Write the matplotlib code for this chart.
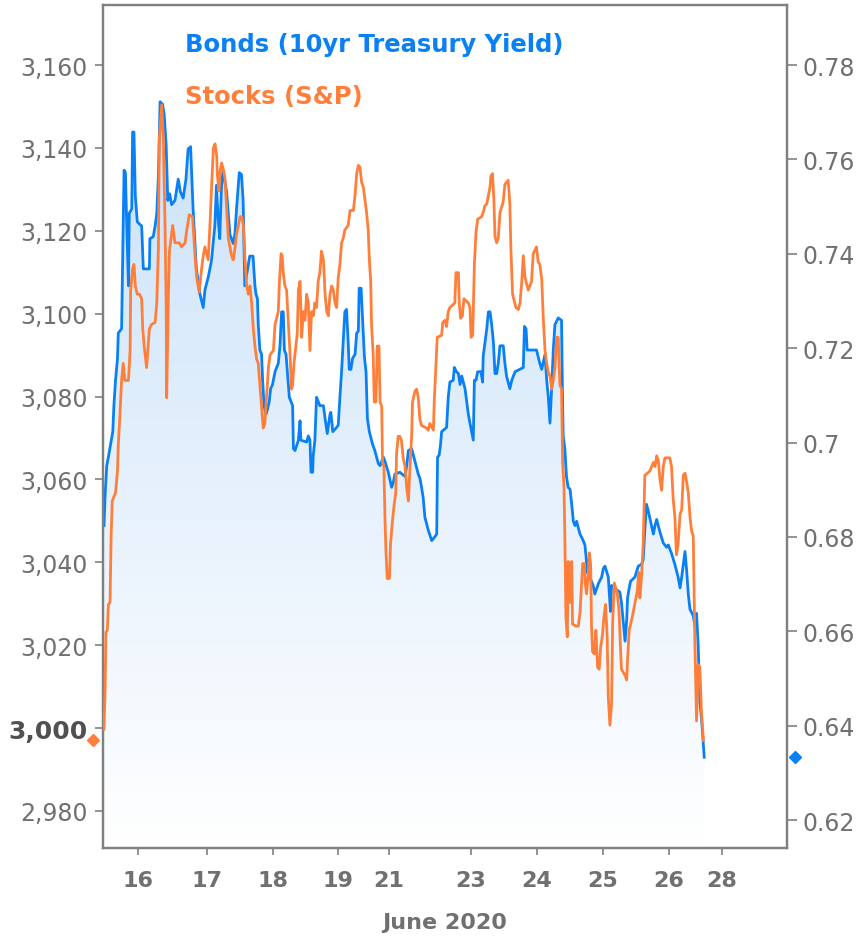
import numpy as np
import matplotlib
matplotlib.use("Agg")
import matplotlib.pyplot as plt
import matplotlib.transforms as mtransforms
from matplotlib.colors import LinearSegmentedColormap

# 10yr treasury yield (right axis), hours since start of the window
bond_hours = [0.0, 0.4, 1.0, 1.6, 2.4, 3.2, 3.6, 4.2, 4.9, 5.2, 6.4, 6.8, 7.3, 7.8, 8.2, 8.9, 9.2, 10.1,
              10.4, 10.9, 11.4, 12.1, 12.9, 13.7, 14.3, 16.5, 16.7, 17.9, 18.6, 19.2, 19.8, 20.4, 21.3,
              21.9, 22.6, 23.2, 23.9, 24.6, 25.8, 27.0, 27.8, 28.8, 29.8, 30.6, 31.5, 32.4, 33.6, 34.9,
              36.1, 36.7, 37.9, 39.1, 40.3, 40.9, 41.5, 42.1, 42.7, 43.3, 44.6, 45.8, 47.0, 47.6, 48.2,
              49.2, 50.0, 50.6, 51.2, 53.0, 54.2, 54.9, 55.3, 55.8, 56.1, 56.7, 57.3, 57.7, 58.2, 58.9,
              59.4, 60.1, 60.6, 61.3, 62.2, 63.4, 64.0, 64.6, 65.2, 65.6, 66.2, 66.7, 67.4, 68.0, 68.6,
              68.9, 69.5, 70.7, 71.3, 71.6, 73.7, 74.3, 74.9, 75.3, 75.9, 76.1, 76.7, 77.3, 78.5, 79.8,
              80.4, 81.2, 82.2, 82.5, 83.2, 84.6, 85.2, 85.8, 86.4, 87.0, 87.6, 88.2, 88.8, 89.2, 89.8,
              90.4, 91.3, 91.9, 92.5, 92.8, 93.5, 94.1, 94.7, 95.3, 95.8, 96.5, 97.7, 98.5, 99.8, 100.4,
              101.0, 101.6, 102.2, 103.4, 104.6, 105.2, 105.8, 107.6, 109.5, 110.1, 110.7, 111.9, 113.1,
              114.3, 114.9, 115.5, 116.1, 116.7, 117.9, 119.2, 120.4, 121.0, 121.3, 121.9, 122.4, 122.8,
              124.6, 125.2, 125.8, 127.0, 127.4, 128.2, 128.9, 129.5, 130.1, 131.3, 131.9, 132.5, 133.1,
              134.3, 134.7, 135.3, 135.9, 137.1, 137.7, 137.9, 138.6, 139.2, 139.8, 140.4, 141.0, 141.6,
              142.2, 142.8, 143.4, 144.0, 145.2, 145.8, 146.4, 147.6, 148.3, 149.5, 152.5, 152.9, 153.5,
              153.9, 157.3, 158.5, 159.2, 160.4, 161.0, 161.6, 162.2, 162.8, 163.4, 164.0, 165.2, 166.4,
              166.7, 167.0, 167.6, 168.2, 168.8, 169.5, 170.1, 170.7, 171.3, 171.9, 173.1, 174.3, 174.9,
              175.3, 175.8, 176.1, 176.7, 177.9, 178.5, 179.8, 181.0, 181.6, 182.2, 183.4, 183.8, 184.2,
              184.6, 186.4, 187.6, 188.2, 188.8, 189.5, 190.1, 190.4, 190.9, 191.5, 193.1, 194.3, 195.5,
              196.1, 196.7, 197.3, 197.9, 199.1, 199.8, 200.4, 201.0, 202.2, 203.4, 204.6, 205.2, 206.4,
              207.6, 208.8, 209.5, 210.1, 210.7, 211.3, 211.9, 212.5, 213.1, 214.3, 214.9, 215.5, 216.1,
              216.7, 217.3, 218.3]
bond_yield = [0.6824, 0.6887, 0.6951, 0.6969, 0.6996, 0.7023, 0.7078, 0.7132, 0.7178, 0.7232, 0.7241,
              0.7386, 0.7577, 0.7572, 0.7477, 0.7332, 0.7486, 0.7495, 0.7658, 0.7658, 0.7522, 0.7468,
              0.7463, 0.7459, 0.7368, 0.7368, 0.7432, 0.7436, 0.7459, 0.7486, 0.7568, 0.7722, 0.7717,
              0.7695, 0.7631, 0.7513, 0.7527, 0.7504, 0.7513, 0.7558, 0.7531, 0.7518, 0.7558, 0.7622,
              0.7627, 0.7495, 0.7368, 0.7314, 0.7286, 0.7323, 0.7350, 0.7386, 0.7459, 0.7545, 0.7477,
              0.7432, 0.7540, 0.7577, 0.7531, 0.7441, 0.7422, 0.7441, 0.7495, 0.7572, 0.7568, 0.7513,
              0.7332, 0.7395, 0.7395, 0.7332, 0.7314, 0.7305, 0.7250, 0.7196, 0.7187, 0.7132, 0.7078,
              0.7060, 0.7069, 0.7087, 0.7114, 0.7123, 0.7150, 0.7168, 0.7205, 0.7277, 0.7277, 0.7196,
              0.7187, 0.7150, 0.7096, 0.7087, 0.7078, 0.6987, 0.6983, 0.7005, 0.7046, 0.7005, 0.7001,
              0.7014, 0.7005, 0.6937, 0.6937, 0.6973, 0.7005, 0.7096, 0.7078, 0.7078, 0.7051, 0.7019,
              0.7060, 0.7064, 0.7023, 0.7032, 0.7037, 0.7096, 0.7150, 0.7214, 0.7277, 0.7282, 0.7214,
              0.7155, 0.7155, 0.7178, 0.7187, 0.7232, 0.7236, 0.7327, 0.7327, 0.7255, 0.7182, 0.7150,
              0.7051, 0.7023, 0.6996, 0.6983, 0.6955, 0.6951, 0.6960, 0.6969, 0.6960, 0.6937, 0.6905,
              0.6915, 0.6933, 0.6937, 0.6928, 0.6951, 0.6983, 0.6987, 0.6960, 0.6933, 0.6924, 0.6905,
              0.6883, 0.6842, 0.6815, 0.6792, 0.6801, 0.6806, 0.6969, 0.6973, 0.6996, 0.7023, 0.7032,
              0.7096, 0.7128, 0.7132, 0.7159, 0.7150, 0.7146, 0.7123, 0.7141, 0.7114, 0.7087, 0.7060,
              0.7041, 0.7005, 0.7132, 0.7132, 0.7150, 0.7150, 0.7128, 0.7182, 0.7214, 0.7241, 0.7277,
              0.7277, 0.7250, 0.7214, 0.7146, 0.7146, 0.7168, 0.7205, 0.7205, 0.7168, 0.7141, 0.7114,
              0.7132, 0.7150, 0.7159, 0.7246, 0.7241, 0.7196, 0.7196, 0.7168, 0.7155, 0.7187, 0.7132,
              0.7096, 0.7041, 0.7114, 0.7196, 0.7250, 0.7264, 0.7259, 0.7123, 0.7014, 0.6987, 0.6928,
              0.6905, 0.6901, 0.6869, 0.6833, 0.6824, 0.6833, 0.6806, 0.6792, 0.6783, 0.6760, 0.6724,
              0.6751, 0.6715, 0.6697, 0.6679, 0.6701, 0.6715, 0.6733, 0.6738, 0.6715, 0.6679, 0.6642,
              0.6697, 0.6688, 0.6683, 0.6661, 0.6624, 0.6579, 0.6624, 0.6670, 0.6688, 0.6706, 0.6715,
              0.6738, 0.6742, 0.6751, 0.6815, 0.6869, 0.6856, 0.6824, 0.6806, 0.6824, 0.6837, 0.6810,
              0.6787, 0.6778, 0.6783, 0.6765, 0.6742, 0.6715, 0.6692, 0.6715, 0.6742, 0.6769, 0.6729,
              0.6679, 0.6647, 0.6633, 0.6611, 0.6638, 0.6570, 0.6452, 0.6416, 0.6333]

# S&P 500 (left axis)
stock_hours = [0.0, 0.4, 0.7, 1.2, 1.6, 2.2, 2.6, 3.0, 4.2, 4.9, 5.2, 5.8, 6.4, 7.0, 7.6, 8.9, 9.5, 9.7,
               10.4, 10.9, 11.4, 12.1, 12.9, 13.7, 14.1, 14.6, 15.5, 16.5, 17.3, 18.6, 19.2, 19.8, 20.1,
               21.0, 21.6, 22.2, 22.6, 22.8, 23.4, 23.8, 25.0, 25.8, 27.4, 28.2, 29.5, 30.1, 31.0, 32.2,
               33.1, 33.7, 34.6, 35.5, 36.1, 36.7, 37.9, 38.6, 39.2, 39.8, 40.4, 41.0, 41.2, 41.8, 42.2,
               42.8, 43.4, 44.0, 44.6, 45.2, 46.4, 47.0, 47.6, 48.2, 49.5, 50.1, 50.7, 51.3, 51.9, 52.5,
               53.1, 53.7, 54.3, 54.9, 55.5, 56.1, 56.7, 57.3, 57.9, 58.5, 59.1, 59.8, 60.4, 61.6, 62.2,
               63.4, 63.8, 64.4, 64.8, 65.2, 65.8, 66.4, 67.0, 67.6, 68.2, 68.6, 69.1, 69.8, 70.3, 70.7,
               71.3, 71.9, 72.5, 73.1, 73.7, 74.3, 74.9, 75.5, 76.1, 76.7, 77.3, 77.9, 78.5, 79.1, 79.8,
               80.4, 81.0, 81.6, 82.2, 82.8, 83.4, 84.0, 84.6, 85.2, 85.8, 86.4, 87.0, 87.6, 88.8, 89.5,
               90.7, 91.3, 91.9, 92.5, 93.1, 93.7, 94.3, 94.9, 95.5, 96.1, 96.5, 97.0, 97.3, 97.9, 98.3,
               98.9, 99.4, 100.0, 100.4, 101.0, 101.3, 101.8, 102.2, 102.5, 103.0, 103.8, 104.2, 105.0,
               105.5, 106.1, 106.4, 107.0, 107.6, 108.2, 108.8, 109.5, 110.1, 110.7, 111.3, 111.9, 112.2,
               113.1, 113.7, 114.3, 114.9, 115.5, 117.3, 117.9, 118.5, 119.8, 120.1, 120.7, 121.2, 122.8,
               123.2, 124.0, 124.6, 125.2, 125.8, 127.6, 128.0, 128.9, 129.2, 129.7, 130.3, 130.9, 132.5,
               133.1, 133.5, 134.1, 134.7, 135.3, 135.9, 137.3, 137.9, 138.5, 139.2, 139.8, 140.4, 140.7,
               141.3, 141.8, 142.2, 142.8, 143.4, 144.0, 145.2, 145.8, 147.0, 147.6, 148.0, 148.6, 149.8,
               150.7, 151.3, 151.9, 152.5, 153.1, 154.3, 154.9, 155.5, 156.1, 157.3, 157.9, 158.5, 159.2,
               159.8, 160.4, 161.0, 161.6, 162.2, 162.8, 163.4, 164.0, 164.6, 165.2, 165.8, 166.4, 166.8,
               167.3, 167.6, 168.0, 168.5, 168.8, 169.5, 170.1, 170.4, 171.6, 172.5, 173.1, 173.7, 174.1,
               174.7, 175.0, 175.5, 176.1, 176.5, 177.0, 177.3, 177.7, 178.3, 178.9, 179.5, 180.1, 180.6,
               181.3, 181.8, 182.4, 183.0, 183.4, 184.0, 184.6, 185.0, 185.6, 186.7, 187.3, 187.9, 188.2,
               189.5, 190.1, 190.4, 191.0, 192.1, 193.3, 193.9, 194.5, 194.9, 195.5, 196.1, 196.7, 198.5,
               199.8, 200.4, 201.0, 201.6, 202.2, 202.8, 203.4, 204.0, 205.8, 206.4, 207.0, 207.6, 208.2,
               208.8, 209.5, 210.1, 210.7, 211.3, 211.9, 212.5, 213.1, 213.7, 214.3, 214.9, 215.5, 216.1,
               216.7, 217.3, 218.0]
stock_price = [2999.7, 3009.0, 3023.1, 3023.6, 3029.8, 3030.3, 3046.4, 3054.8, 3056.8, 3062.0, 3068.3,
               3075.6, 3083.9, 3088.0, 3083.9, 3083.9, 3091.1, 3105.7, 3110.9, 3111.9, 3106.7, 3104.7,
               3104.7, 3103.6, 3096.3, 3092.2, 3087.0, 3096.3, 3097.4, 3097.9, 3102.6, 3116.1, 3142.1,
               3150.4, 3142.1, 3121.3, 3102.6, 3079.7, 3103.6, 3115.1, 3121.3, 3117.1, 3117.1, 3116.1,
               3117.1, 3120.2, 3123.9, 3123.4, 3114.0, 3108.8, 3105.2, 3110.9, 3114.0, 3116.1, 3113.0,
               3122.3, 3131.7, 3140.0, 3141.0, 3137.9, 3133.8, 3129.6, 3134.3, 3136.4, 3134.8, 3132.7,
               3125.4, 3118.2, 3114.0, 3113.0, 3115.6, 3119.2, 3123.4, 3123.4, 3121.3, 3113.0, 3106.7,
               3104.7, 3106.7, 3102.6, 3096.3, 3092.2, 3089.1, 3088.0, 3082.8, 3077.6, 3072.4, 3073.5,
               3079.7, 3087.0, 3090.1, 3091.1, 3097.4, 3100.5, 3107.8, 3114.5, 3114.0, 3109.9, 3106.7,
               3105.7, 3098.4, 3091.1, 3081.8, 3082.8, 3088.0, 3092.2, 3095.3, 3105.7, 3107.8, 3094.3,
               3100.5, 3098.4, 3104.7, 3102.6, 3091.1, 3100.5, 3099.5, 3102.6, 3101.5, 3107.8, 3109.9,
               3115.1, 3113.0, 3104.7, 3100.5, 3099.5, 3104.7, 3106.7, 3105.7, 3102.6, 3101.5, 3108.8,
               3111.9, 3117.1, 3118.2, 3120.2, 3121.3, 3124.9, 3124.9, 3128.6, 3133.8, 3135.8, 3135.3,
               3131.7, 3130.6, 3127.5, 3124.4, 3120.2, 3113.0, 3107.8, 3097.4, 3090.1, 3078.7, 3078.7,
               3092.2, 3092.2, 3078.7, 3077.6, 3064.1, 3063.1, 3050.6, 3043.3, 3036.1, 3036.1, 3044.4,
               3050.6, 3053.7, 3056.8, 3066.2, 3070.4, 3070.4, 3069.3, 3065.2, 3063.1, 3057.9, 3054.8,
               3063.1, 3070.9, 3078.7, 3081.3, 3081.8, 3079.7, 3074.5, 3073.0, 3072.4, 3071.9, 3073.5,
               3071.9, 3078.7, 3087.0, 3094.3, 3094.8, 3097.9, 3098.4, 3096.9, 3100.5, 3101.5, 3102.6,
               3109.9, 3109.9, 3102.6, 3098.9, 3099.5, 3103.6, 3102.6, 3101.5, 3094.3, 3094.8, 3111.9,
               3119.7, 3122.8, 3123.4, 3124.4, 3126.0, 3126.5, 3128.6, 3130.6, 3133.2, 3133.8, 3127.5,
               3118.7, 3117.1, 3118.2, 3124.4, 3127.0, 3131.2, 3132.2, 3126.5, 3115.1, 3104.7, 3101.5,
               3101.0, 3102.6, 3107.3, 3114.0, 3108.8, 3105.7, 3106.7, 3107.8, 3114.5, 3116.1, 3112.5,
               3111.9, 3108.3, 3098.4, 3091.1, 3088.0, 3085.9, 3084.9, 3081.8, 3083.9, 3087.0, 3094.3,
               3094.3, 3082.8, 3081.8, 3064.1, 3057.9, 3046.4, 3026.7, 3022.0, 3040.2, 3030.3, 3040.2,
               3025.1, 3024.6, 3024.6, 3027.7, 3035.0, 3039.7, 3039.7, 3035.0, 3032.4, 3037.1, 3042.3,
               3039.2, 3024.6, 3018.4, 3017.9, 3023.6, 3014.7, 3014.2, 3019.4, 3022.5, 3026.7, 3029.8,
               3022.0, 3007.5, 3000.7, 3005.9, 3025.7, 3035.0, 3032.4, 3028.3, 3018.4, 3014.2, 3012.7,
               3011.6, 3016.3, 3023.6, 3026.7, 3030.9, 3032.9, 3037.6, 3031.4, 3036.6, 3044.4, 3061.0,
               3062.0, 3064.1, 3063.1, 3065.7, 3064.6, 3060.0, 3057.4, 3063.1, 3065.2, 3065.2, 3063.1,
               3055.3, 3051.1, 3041.8, 3044.4, 3051.6, 3052.7, 3061.0, 3061.5, 3059.4, 3056.8, 3051.1,
               3047.5, 3046.4, 3020.5, 3001.7, 3015.3, 3014.7, 3003.8, 2997.0]

# day labels on the (compressed) time axis
day_hours = [12.4, 37.5, 61.5, 85.1, 103.6, 133.5, 157.5, 181.5, 205.5, 224.7]
day_labels = ["16", "17", "18", "19", "21", "23", "24", "25", "26", "28"]

stock_ticks = [2980, 3000, 3020, 3040, 3060, 3080, 3100, 3120, 3140, 3160]
bond_ticks = [0.62, 0.64, 0.66, 0.68, 0.70, 0.72, 0.74, 0.76, 0.78]

BLUE = "#0a80f5"
ORANGE = "#ff7f3a"
GREY = "#707070"

fig = plt.figure(figsize=(8.57, 9.37), dpi=100)
ax = fig.add_axes([103 / 857, 88 / 937, 684 / 857, 843 / 937])
ax2 = ax.twinx()

xlim = (-0.36, 248.4)
s_lim = (2971.05, 3174.5)
b_lim = (0.61407, 0.79272)

# gradient fill under the bond line
cmap = LinearSegmentedColormap.from_list("fade", ["#ffffff", "#c4def9"])
grad = np.linspace(0, 1, 256).reshape(-1, 1)
im = ax2.imshow(grad, cmap=cmap, aspect="auto", origin="lower",
                extent=[xlim[0], xlim[1], b_lim[0], b_lim[1]], zorder=1)
poly = ax2.fill_between(bond_hours, bond_yield, b_lim[0], facecolor="none", edgecolor="none")
im.set_clip_path(poly.get_paths()[0], transform=ax2.transData)
ax2.plot(bond_hours, bond_yield, color=BLUE, lw=2.0, zorder=3)

ax.plot(stock_hours, stock_price, color=ORANGE, lw=2.0, zorder=3)

ax.set_zorder(2)
ax.patch.set_visible(False)
ax2.set_zorder(1)

ax.set_xlim(*xlim)
ax.set_ylim(*s_lim)
ax2.set_ylim(*b_lim)

ax.set_xticks(day_hours, labels=day_labels)
ax.set_yticks(stock_ticks, labels=[f"{v:,}" for v in stock_ticks])
ax2.set_yticks(bond_ticks, labels=[f"{v:g}" for v in bond_ticks])

for a in (ax, ax2):
    for sp in a.spines.values():
        sp.set_color("#808080")
        sp.set_linewidth(1.6)

ax.tick_params(axis="y", length=6, width=1.2, color="#808080", labelsize=17,
               labelcolor=GREY, pad=5)
ax2.tick_params(axis="y", length=7, width=1.2, color="#808080", labelsize=17,
                labelcolor=GREY, pad=4)
ax.tick_params(axis="x", length=5, width=1.2, color="#808080", labelsize=16,
               labelcolor=GREY, pad=11)
for lab in ax.get_xticklabels():
    lab.set_fontweight("bold")
for lab in ax.get_yticklabels():
    if lab.get_text() == "3,000":
        lab.set_fontweight("bold")
        lab.set_color("#505050")
        lab.set_fontsize(18)

# last-value markers beside the axes
left_tr = mtransforms.blended_transform_factory(ax.transAxes, ax.transData)
ax.plot([-0.015], [stock_price[-1]], marker="D", ms=6, color=ORANGE,
        transform=left_tr, clip_on=False)
right_tr = mtransforms.blended_transform_factory(ax2.transAxes, ax2.transData)
ax2.plot([1.012], [bond_yield[-1]], marker="D", ms=6, color=BLUE,
         transform=right_tr, clip_on=False)

fig.text(185 / 857, 1 - 45 / 937, "Bonds (10yr Treasury Yield)", color=BLUE,
         fontsize=17.5, fontweight="bold", va="center", ha="left")
fig.text(185 / 857, 1 - 97 / 937, "Stocks (S&P)", color=ORANGE,
         fontsize=17.5, fontweight="bold", va="center", ha="left")
fig.text(445 / 857, 1 - 923 / 937, "June 2020", color=GREY, fontsize=16,
         fontweight="bold", va="center", ha="center")

fig.savefig("out.png", dpi=100)
